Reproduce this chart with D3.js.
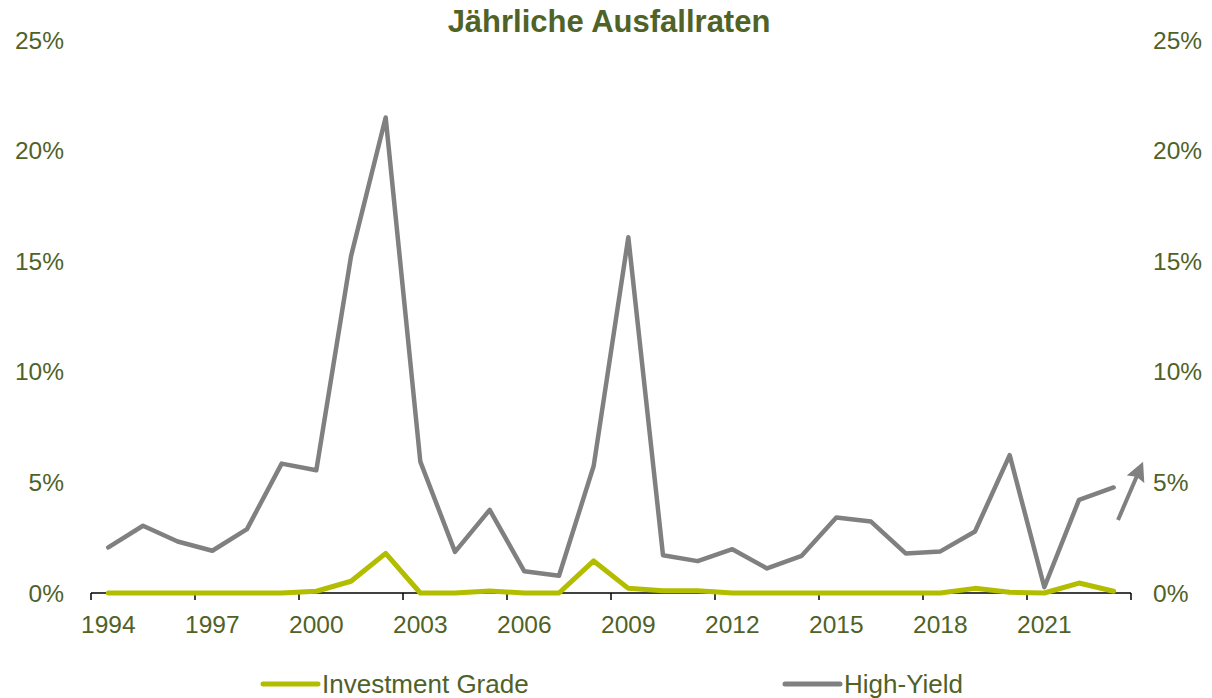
<!DOCTYPE html>
<html>
<head>
<meta charset="utf-8">
<script src="https://cdn.jsdelivr.net/npm/d3@7"></script>
<style>
  body { margin: 0; background: #fff; }
  svg text { font-family: "Liberation Sans", Arial, sans-serif; }
</style>
</head>
<body>
<div id="chart"></div>
<script>
// Jährliche Ausfallraten, Werte in %
const years = d3.range(1994, 2024);
const investmentGrade = [0, 0, 0, 0, 0, 0, 0.08, 0.53, 1.79, 0, 0, 0.09, 0, 0, 1.45, 0.21,
  0.1, 0.1, 0, 0, 0, 0, 0, 0, 0, 0.21, 0.03, 0, 0.45, 0.08];
const highYield = [2.06, 3.04, 2.33, 1.91, 2.89, 5.85, 5.55, 15.22, 21.5, 5.94, 1.86, 3.76, 0.98, 0.78, 5.74, 16.08,
  1.71, 1.44, 1.98, 1.11, 1.68, 3.41, 3.23, 1.79, 1.88, 2.78, 6.23, 0.26, 4.21, 4.77];
const yTicks = [0, 5, 10, 15, 20, 25];
const xLabels = [1994, 1997, 2000, 2003, 2006, 2009, 2012, 2015, 2018, 2021];
const seriesNames = ["Investment Grade", "High-Yield"];

const width = 1212, height = 698;
const textColor = "#4f6228";
const colors = { "Investment Grade": "#b3bd00", "High-Yield": "#808080" };

const svg = d3.select("#chart").append("svg")
  .attr("width", width)
  .attr("height", height);

const plotLeft = 91, plotRight = 1131, plotTop = 40, plotBottom = 593;

const x = d3.scaleBand().domain(years).range([plotLeft, plotRight]);
const y = d3.scaleLinear().domain([0, 25]).range([plotBottom, plotTop]);

// Titel
svg.append("text")
  .attr("x", 609).attr("y", 32)
  .attr("text-anchor", "middle")
  .attr("font-size", 31).attr("font-weight", "bold")
  .attr("fill", textColor)
  .text("Jährliche Ausfallraten");

// y-Achsen links und rechts (nur Beschriftung)
const fmt = d => d + "%";
svg.selectAll(".ylab-l").data(yTicks).enter().append("text")
  .attr("class", "ylab-l")
  .attr("x", 64).attr("y", d => y(d))
  .attr("dy", "0.35em")
  .attr("text-anchor", "end")
  .attr("font-size", 24.5).attr("fill", textColor)
  .text(fmt);
svg.selectAll(".ylab-r").data(yTicks).enter().append("text")
  .attr("class", "ylab-r")
  .attr("x", 1153).attr("y", d => y(d))
  .attr("dy", "0.35em")
  .attr("text-anchor", "start")
  .attr("font-size", 24.5).attr("fill", textColor)
  .text(fmt);

// x-Achse: Striche zwischen Kategorien, alle 3 Jahre
const tickPos = d3.range(0, years.length + 1, 3).map(i => plotLeft + i * x.step());
svg.append("line")
  .attr("x1", plotLeft).attr("x2", plotRight)
  .attr("y1", plotBottom).attr("y2", plotBottom)
  .attr("stroke", "#000").attr("stroke-width", 1.5);
svg.selectAll(".xtick").data(tickPos).enter().append("line")
  .attr("class", "xtick")
  .attr("x1", d => d).attr("x2", d => d)
  .attr("y1", plotBottom).attr("y2", plotBottom + 7)
  .attr("stroke", "#000").attr("stroke-width", 1.5);
svg.selectAll(".xlab").data(xLabels).enter().append("text")
  .attr("class", "xlab")
  .attr("x", d => x(d) + x.bandwidth() / 2)
  .attr("y", 633)
  .attr("text-anchor", "middle")
  .attr("font-size", 24.5).attr("fill", textColor)
  .text(d => d);

// Linien
const line = d3.line()
  .x((d, i) => x(years[i]) + x.bandwidth() / 2)
  .y(d => y(d));

const seriesData = { "Investment Grade": investmentGrade, "High-Yield": highYield };
["High-Yield", "Investment Grade"].forEach(name => {
  svg.append("path")
    .datum(seriesData[name])
    .attr("fill", "none")
    .attr("stroke", colors[name])
    .attr("stroke-width", name === "High-Yield" ? 4.5 : 5)
    .attr("stroke-linejoin", "round")
    .attr("stroke-linecap", "round")
    .attr("d", line);
});

// Pfeil (Trend nach oben)
svg.append("defs").append("marker")
  .attr("id", "arrowhead")
  .attr("viewBox", "0 0 10 10")
  .attr("refX", 2).attr("refY", 5)
  .attr("markerWidth", 4.8).attr("markerHeight", 4.8)
  .attr("orient", "auto")
  .append("path")
  .attr("d", "M0,0 L10,5 L0,10 L1.5,5 Z")
  .attr("fill", "#808080");
svg.append("line")
  .attr("x1", plotRight - 13).attr("y1", y(3.3))
  .attr("x2", plotRight + 6).attr("y2", y(5.3))
  .attr("stroke", "#808080").attr("stroke-width", 4)
  .attr("marker-end", "url(#arrowhead)");

// Legende
const legendX = [263, 785];
const legend = svg.selectAll(".legend").data(seriesNames).enter().append("g")
  .attr("class", "legend")
  .attr("transform", (d, i) => `translate(${legendX[i]},684)`);
legend.append("line")
  .attr("x1", 0).attr("x2", 55)
  .attr("stroke", d => colors[d])
  .attr("stroke-width", 5)
  .attr("stroke-linecap", "round");
legend.append("text")
  .attr("x", 59).attr("y", 0)
  .attr("dy", "0.35em")
  .attr("font-size", 26).attr("fill", textColor)
  .text(d => d);
</script>
</body>
</html>
